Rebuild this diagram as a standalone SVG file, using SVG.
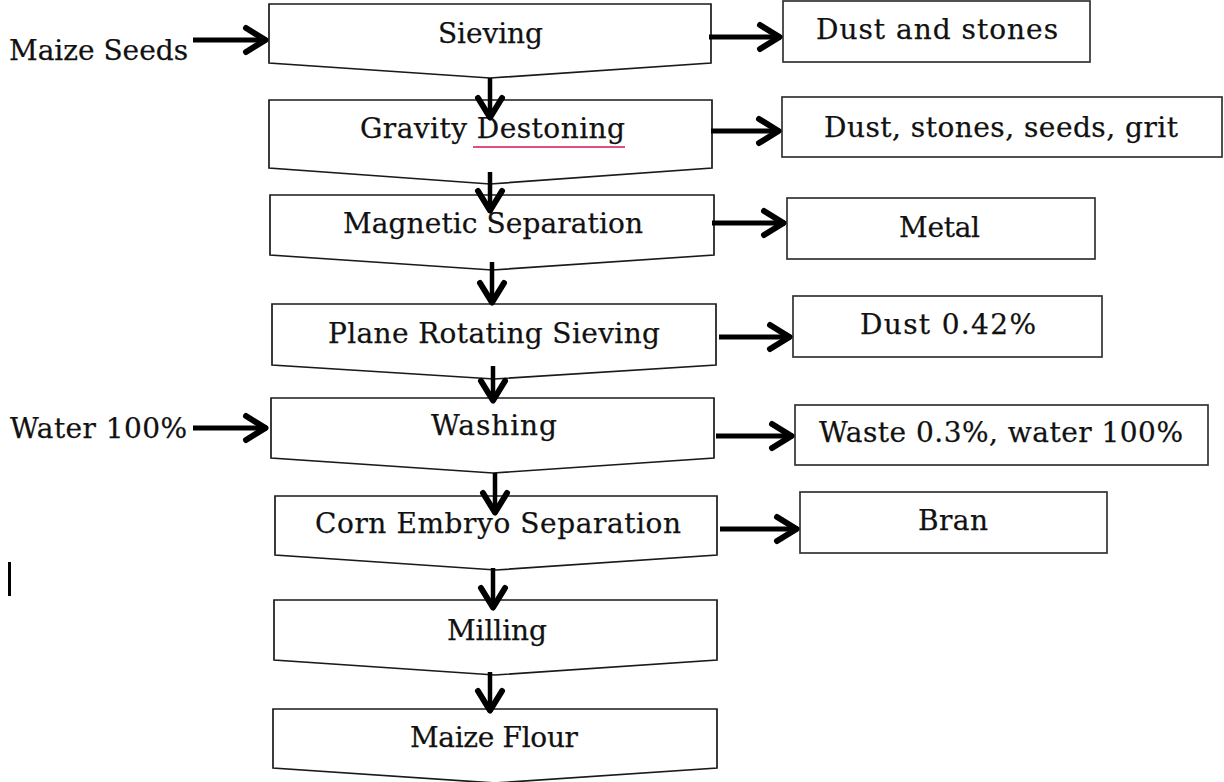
<svg xmlns="http://www.w3.org/2000/svg" width="1224" height="782" viewBox="0 0 1224 782">
<style>
.step{fill:#fff;stroke:#1a1a1a;stroke-width:1.7;stroke-linejoin:miter}
.out{fill:#fff;stroke:#333;stroke-width:1.7}
.t{font-family:"DejaVu Serif","Liberation Serif",serif;font-size:28px;fill:#111;stroke:#111;stroke-width:0.25}
.arr{stroke:#000;stroke-width:5;fill:none;marker-end:url(#ah)}
.arrv{stroke:#000;stroke-width:4.5;fill:none;marker-end:url(#ah)}
</style>
<defs>
<marker id="ah" markerUnits="userSpaceOnUse" viewBox="-26 -15 30 30" refX="0" refY="0" markerWidth="30" markerHeight="30" orient="auto" overflow="visible">
<path d="M-21,-12 L-1.5,0 L-21,12" fill="none" stroke="#000" stroke-width="6" stroke-linecap="round" stroke-linejoin="round"/>
</marker>
</defs>
<rect width="1224" height="782" fill="#fff"/>

<g id="input-maize"><text class="t" x="9" y="60" textLength="179">Maize Seeds</text></g>
<g id="input-water"><text class="t" x="10" y="438" textLength="177">Water 100%</text></g>

<g id="sieving">
<path class="step" d="M269,4 H711 V63 L490,78 L269,63 Z"/>
<text class="t" x="438" y="43" textLength="105">Sieving</text>
</g>
<g id="gravity">
<path class="step" d="M269,100 H712 V168 L490,184 L269,168 Z"/>
<text class="t" x="360" y="138" textLength="265">Gravity Destoning</text>
<line x1="473" y1="147" x2="625" y2="147" stroke="#e0507a" stroke-width="2"/>
</g>
<g id="magnetic">
<path class="step" d="M270,195 H714 V255 L492,270 L270,255 Z"/>
<text class="t" x="343" y="233" textLength="300">Magnetic Separation</text>
</g>
<g id="plane">
<path class="step" d="M272,304 H716 V365 L494,379 L272,365 Z"/>
<text class="t" x="328" y="343" textLength="332">Plane Rotating Sieving</text>
</g>
<g id="washing">
<path class="step" d="M271,398 H714 V458 L493,473 L271,458 Z"/>
<text class="t" x="431" y="435" textLength="126">Washing</text>
</g>
<g id="corn">
<path class="step" d="M275,496 H717 V555 L496,570 L275,555 Z"/>
<text class="t" x="315" y="533" textLength="366">Corn Embryo Separation</text>
</g>
<g id="milling">
<path class="step" d="M274,600 H717 V660 L495,675 L274,660 Z"/>
<text class="t" x="447" y="640" textLength="100">Milling</text>
</g>
<g id="flour">
<path class="step" d="M273,709 H717 V768 L495,783 L273,768 Z"/>
<text class="t" x="410" y="747" textLength="168">Maize Flour</text>
</g>

<g id="out-dust-stones">
<rect class="out" x="783" y="1" width="307" height="61"/>
<text class="t" x="816" y="39" textLength="242">Dust and stones</text>
</g>
<g id="out-grit">
<rect class="out" x="782" y="97" width="440" height="60"/>
<text class="t" x="824" y="137" textLength="354">Dust, stones, seeds, grit</text>
</g>
<g id="out-metal">
<rect class="out" x="787" y="198" width="308" height="61"/>
<text class="t" x="899" y="237" textLength="81">Metal</text>
</g>
<g id="out-dust">
<rect class="out" x="793" y="296" width="309" height="61"/>
<text class="t" x="860" y="334" textLength="176">Dust 0.42%</text>
</g>
<g id="out-waste">
<rect class="out" x="795" y="405" width="413" height="60"/>
<text class="t" x="819" y="442" textLength="364">Waste 0.3%, water 100%</text>
</g>
<g id="out-bran">
<rect class="out" x="800" y="492" width="307" height="61"/>
<text class="t" x="918" y="530" textLength="70">Bran</text>
</g>

<g id="connectors">
<line class="arr" x1="193" y1="40" x2="267" y2="40"/>
<line class="arr" x1="193" y1="428" x2="267" y2="428"/>
<line class="arrv" x1="490" y1="78" x2="490" y2="119"/>
<line class="arrv" x1="490" y1="172" x2="490" y2="212"/>
<line class="arrv" x1="492" y1="262" x2="492" y2="304"/>
<line class="arrv" x1="493" y1="366" x2="493" y2="402"/>
<line class="arrv" x1="495" y1="473" x2="495" y2="514"/>
<line class="arrv" x1="493" y1="568" x2="493" y2="609"/>
<line class="arrv" x1="490" y1="672" x2="490" y2="712"/>
<line class="arr" x1="709" y1="37" x2="781" y2="37"/>
<line class="arr" x1="711" y1="131" x2="780" y2="131"/>
<line class="arr" x1="712" y1="223" x2="785" y2="223"/>
<line class="arr" x1="719" y1="337" x2="791" y2="337"/>
<line class="arr" x1="716" y1="436" x2="793" y2="436"/>
<line class="arr" x1="720" y1="529" x2="798" y2="529"/>
</g>

<line x1="9.5" y1="562" x2="9.5" y2="596" stroke="#000" stroke-width="3"/>
</svg>
